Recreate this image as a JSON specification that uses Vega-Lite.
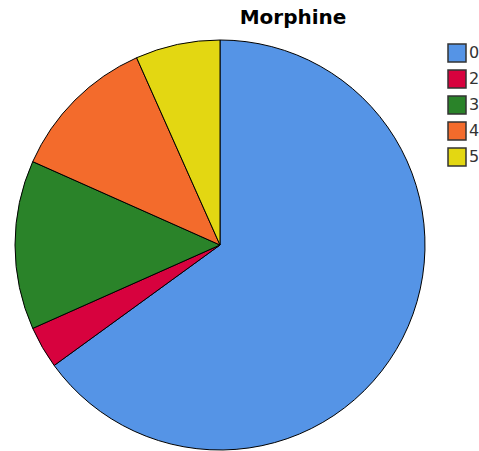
{
  "$schema": "https://vega.github.io/schema/vega-lite/v6.json",
  "autosize": "none",
  "width": 440,
  "height": 410,
  "padding": {"left": 0, "top": 40, "right": 39, "bottom": 1},
  "background": "white",
  "title": {"text": "Morphine", "anchor": "middle", "dx": 73, "offset": 10, "fontSize": 20, "fontWeight": "bold", "font": "DejaVu Sans", "color": "black"},
  "data": {"values": [
    {"category": "0", "count": 39},
    {"category": "2", "count": 2},
    {"category": "3", "count": 8},
    {"category": "4", "count": 7},
    {"category": "5", "count": 4}
  ]},
  "mark": {"type": "arc", "outerRadius": 205, "stroke": "black", "strokeWidth": 1},
  "encoding": {
    "theta": {"field": "count", "type": "quantitative", "stack": true},
    "order": {"field": "category", "type": "ordinal"},
    "color": {
      "field": "category", "type": "nominal",
      "scale": {"domain": ["0", "2", "3", "4", "5"], "range": ["#5594E6", "#D7023E", "#2A8329", "#F36B2C", "#E3D712"]},
      "legend": {
        "title": null, "orient": "none", "legendX": 447, "legendY": 3,
        "symbolType": "square", "symbolSize": 324, "symbolStrokeColor": "#333", "symbolStrokeWidth": 1.5,
        "symbolOpacity": 1, "symbolFillOpacity": 1,
        "labelFontSize": 16, "labelFont": "DejaVu Sans", "labelColor": "#333", "labelOffset": 2, "rowPadding": 2
      }
    }
  }
}
